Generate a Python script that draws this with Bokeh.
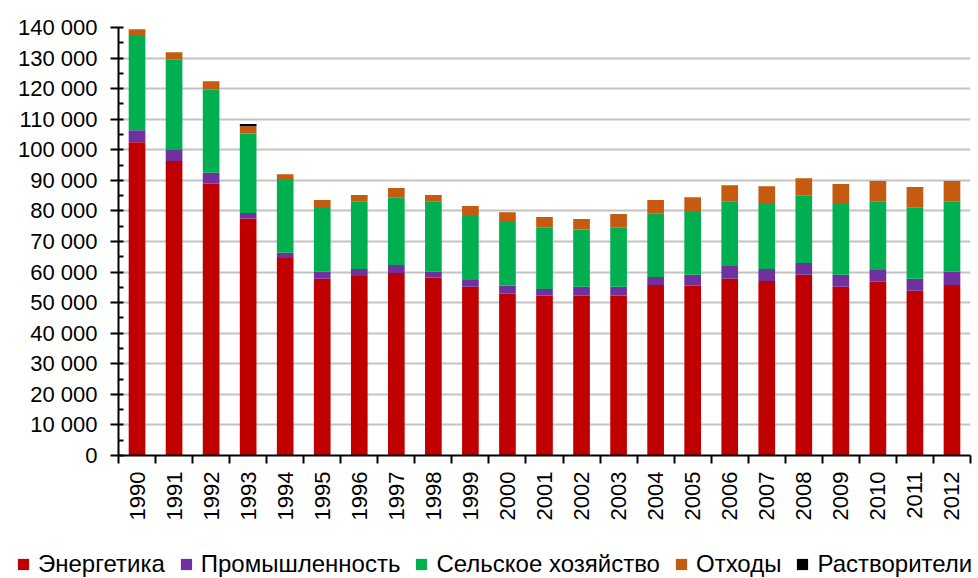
import math
from bokeh.plotting import figure
from bokeh.models import (ColumnDataSource, FixedTicker, LinearAxis, Range1d,
                          Legend, LegendItem)
from bokeh.embed import file_html
from bokeh.resources import INLINE

years = [1990, 1991, 1992, 1993, 1994, 1995, 1996, 1997, 1998, 1999, 2000, 2001,
         2002, 2003, 2004, 2005, 2006, 2007, 2008, 2009, 2010, 2011, 2012]
energy = [102500, 96300, 89000, 77500, 64600, 57800, 58700, 59700, 58200, 55200, 52900, 52300,
          52300, 52300, 55800, 55500, 57800, 57100, 59100, 55200, 56800, 53900, 55800]
industry = [3900, 3600, 3500, 1800, 1700, 2300, 2300, 2600, 1900, 2200, 2600, 2200,
            2900, 2900, 2600, 3600, 4200, 3900, 3900, 3900, 3900, 3900, 4300]
agriculture = [30800, 29600, 27200, 26000, 23800, 21200, 22000, 22200, 22900, 21300, 21200, 20000,
               18700, 19500, 20700, 20900, 21200, 21300, 22000, 23200, 22500, 23200, 23100]
waste = [2200, 2400, 2700, 2400, 1900, 2300, 2200, 3000, 2200, 2900, 2900, 3500,
         3500, 4300, 4500, 4500, 5200, 5800, 5700, 6500, 6600, 6800, 6600]
solvents = [0, 0, 0, 700, 0, 0, 0, 0, 0, 0, 0, 0,
            0, 0, 0, 0, 0, 0, 0, 0, 0, 0, 0]

series_names = ["Энергетика", "Промышленность", "Сельское хозяйство", "Отходы", "Растворители"]
series_colors = ["#C00000", "#7030A0", "#00B050", "#C55A11", "#000000"]

y_ticks = [0, 10000, 20000, 30000, 40000, 50000, 60000, 70000,
           80000, 90000, 100000, 110000, 120000, 130000, 140000]
y_tick_labels = ["0", "10 000", "20 000", "30 000", "40 000", "50 000", "60 000", "70 000",
                 "80 000", "90 000", "100 000", "110 000", "120 000", "130 000", "140 000"]
y_minor_ticks = [5000, 15000, 25000, 35000, 45000, 55000, 65000,
                 75000, 85000, 95000, 105000, 115000, 125000, 135000]

FONT = "Liberation Sans"

keys = ["energy", "industry", "agriculture", "waste", "solvents"]
source = ColumnDataSource(dict(x=years, energy=energy, industry=industry,
                               agriculture=agriculture, waste=waste, solvents=solvents))

p = figure(width=978, height=548, output_backend="svg", toolbar_location=None,
           x_range=Range1d(years[0] - 0.5, years[-1] + 0.5),
           y_range=Range1d(0, 140000),
           x_axis_location=None,
           min_border_left=118, min_border_right=8, min_border_top=27,
           min_border_bottom=93)
p.outline_line_color = None
p.xgrid.visible = False
p.background_fill_color = "white"

p.vbar_stack(keys, x="x", width=0.45, source=source,
             color=series_colors, line_color=None)

# y axis
yax = p.yaxis[0]
yax.ticker = FixedTicker(ticks=y_ticks, minor_ticks=y_minor_ticks)
yax.major_label_overrides = {t: l for t, l in zip(y_ticks, y_tick_labels)}
yax.major_label_text_font = FONT
yax.major_label_text_font_size = "22px"
yax.major_label_text_color = "#000000"
yax.major_label_standoff = 13
yax.axis_line_width = 2
yax.axis_line_color = "#000000"
yax.major_tick_in = 5
yax.major_tick_out = 8
yax.major_tick_line_width = 2
yax.major_tick_line_color = "#000000"
yax.minor_tick_in = 5
yax.minor_tick_out = 0
yax.minor_tick_line_width = 2
yax.minor_tick_line_color = "#000000"

p.ygrid.grid_line_color = "#c3c3c3"
p.ygrid.grid_line_width = 2

# x axis: labels at bar centers, tick marks (minor) at category boundaries
bounds = [y - 0.5 for y in years] + [years[-1] + 0.5]
xax = LinearAxis(ticker=FixedTicker(ticks=years, minor_ticks=bounds))
xax.major_label_overrides = {y: str(y) for y in years}
xax.major_label_orientation = math.pi / 2
xax.major_label_text_font = FONT
xax.major_label_text_font_size = "22px"
xax.major_label_text_color = "#000000"
xax.major_label_standoff = 8
xax.major_tick_in = 0
xax.major_tick_out = 0
xax.major_tick_line_color = None
xax.minor_tick_in = 0
xax.minor_tick_out = 8
xax.minor_tick_line_width = 2
xax.minor_tick_line_color = "#000000"
xax.axis_line_width = 2
xax.axis_line_color = "#000000"
p.add_layout(xax, "below")

# legend strip below the chart (its bars fall outside its own ranges)
lg = figure(width=978, height=30, output_backend="svg", toolbar_location=None,
            x_range=Range1d(0, 1), y_range=Range1d(0, 1),
            x_axis_location=None, y_axis_location=None,
            min_border_left=0, min_border_right=0, min_border_top=0, min_border_bottom=0)
lg.outline_line_color = None
lg.xgrid.visible = False
lg.ygrid.visible = False
legend_renderers = lg.vbar_stack(keys, x="x", width=0.45, source=source,
                                 color=series_colors, line_color=None)
items = [LegendItem(label=n, renderers=[r]) for n, r in zip(series_names, legend_renderers)]
legend = Legend(items=items, orientation="horizontal", location=(16, 0),
                label_text_font=FONT, label_text_font_size="24px",
                label_text_color="#000000", glyph_width=14, glyph_height=14,
                label_standoff=8, spacing=14, padding=0, margin=0,
                border_line_color=None, background_fill_alpha=0,
                label_height=28)
lg.add_layout(legend, "center")

open("out.html", "w").write(file_html([p, lg], INLINE))
